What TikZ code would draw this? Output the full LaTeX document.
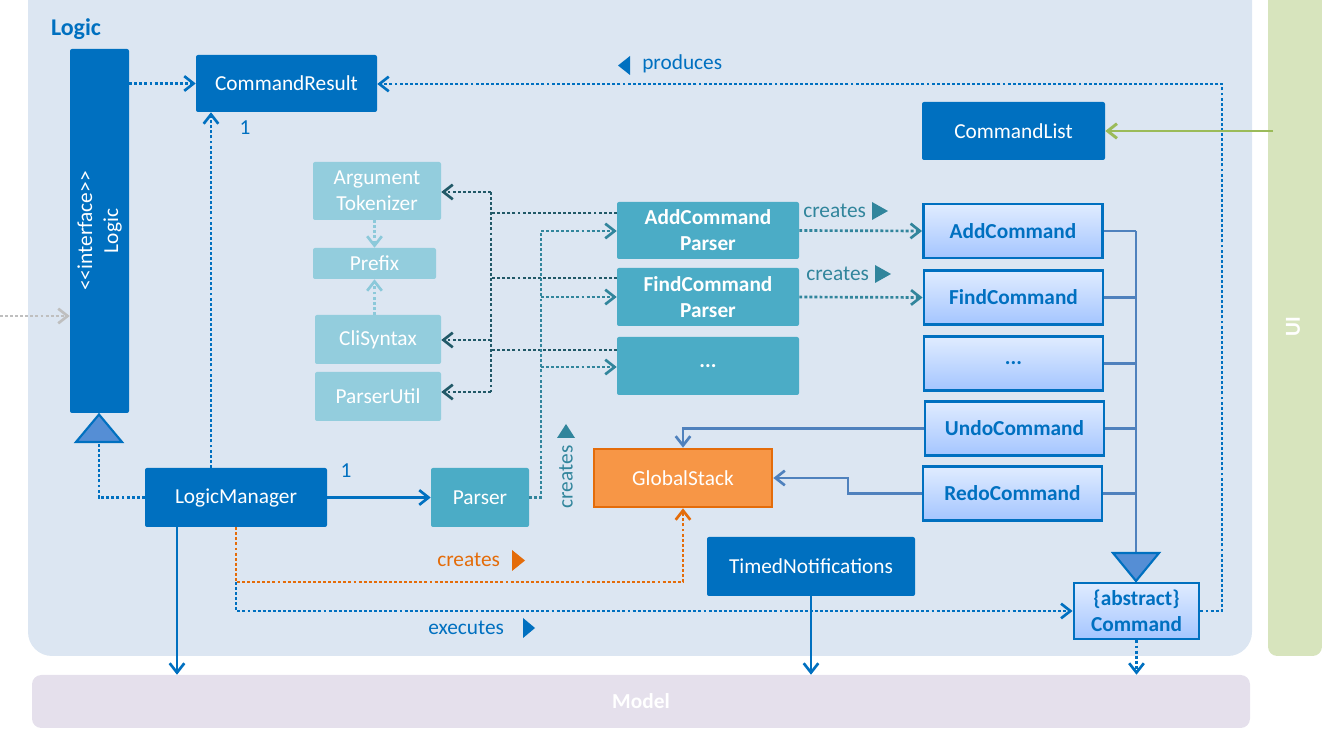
\documentclass[tikz,border=0pt]{standalone}
\usepackage{fontspec}
\setmainfont{Carlito}
\usetikzlibrary{arrows.meta}
\definecolor{panelblue}{HTML}{DCE6F2}
\definecolor{dblue}{HTML}{0070C0}
\definecolor{lcyan}{HTML}{93CDDD}
\definecolor{lcyanarr}{HTML}{8CC9DA}
\definecolor{tealb}{HTML}{4BACC6}
\definecolor{dteal}{HTML}{215968}
\definecolor{mteal}{HTML}{31859C}
\definecolor{orangef}{HTML}{F79646}
\definecolor{oranged}{HTML}{E46C0A}
\definecolor{steel}{HTML}{4F81BD}
\definecolor{trifill}{HTML}{558ED5}
\definecolor{modelc}{HTML}{E5E0EC}
\definecolor{uic}{HTML}{D7E4BD}
\definecolor{greenl}{HTML}{9BBB59}
\definecolor{grayl}{HTML}{BFBFBF}
\definecolor{cmdtop}{HTML}{E0ECFF}
\definecolor{cmdbot}{HTML}{A4C5FF}
\newcommand\fs{\fontsize{16}{19.5}\selectfont}
\tikzset{
  sz/.style 2 args={minimum width=#1*0.75pt, minimum height=#2*0.75pt},
  nbox/.style={inner sep=0pt, align=center, font=\fs, rounded corners=1.5pt},
  dbox/.style={nbox, fill=dblue, text=white},
  ubox/.style={nbox, fill=lcyan, text=white},
  pbox/.style={nbox, fill=tealb, text=white},
  cbox/.style={nbox, draw=dblue, line width=2.2pt, top color=cmdtop, bottom color=cmdbot, text=dblue, font=\fs\bfseries, rounded corners=0pt},
  dotl/.style={line width=2pt, dash pattern=on 2.2pt off 1.6pt},
  solidl/.style={line width=2pt},
  arr/.style={-{Straight Barb[length=7pt,width=11pt]}},
  lbl/.style={font=\fs, inner sep=0pt},
}
\begin{document}
\begin{tikzpicture}[x=0.75pt,y=-0.75pt]
\useasboundingbox (0,0) rectangle (1322,730);
% panels
\fill[panelblue, rounded corners=18pt] (28,-30) rectangle (1252,656);
\fill[white] (0,-40) rectangle (1322,0);
\node[fill=uic, rounded corners=7pt, sz={54}{666}, inner sep=0pt] (ui) at (1295,323) {};
\fill[white] (1260,-40) rectangle (1322,0);
\node[rotate=90, text=white, font=\fs\bfseries, inner sep=0pt] (uit) at (1293,327) {UI};
\node[fill=modelc, rounded corners=7pt, sz={1218}{53}, inner sep=0pt, text=white, font=\fs\bfseries] (model) at (641,701.5) {Model};
\node[text=dblue, font=\fontsize{18}{22}\selectfont\bfseries, inner sep=0pt] (ltitle) at (76,29) {Logic};

% nodes
\node[dbox, sz={59}{364}] (iface) at (99.5,231) {};
\node[rotate=90, text=white, font=\fs, align=center, inner sep=0pt] (ifacet) at (99.5,231) {<\kern0pt<interface>\kern0pt>\\Logic};
\node[dbox, sz={181}{57}] (cres) at (286.5,83.5) {CommandResult};
\node[dbox, sz={183}{58}] (clist) at (1013.5,131) {CommandList};
\node[ubox, sz={128}{58}] (argtok) at (377,191) {Argument\\Tokenizer};
\node[ubox, sz={123}{31}] (prefix) at (374.5,263.5) {Prefix};
\node[ubox, sz={126}{49}] (clisyn) at (378,339.5) {CliSyntax};
\node[ubox, sz={126}{49}] (putil) at (378,396.5) {ParserUtil};
\node[pbox, sz={182}{57}, font=\fs\bfseries] (acp) at (708,230.5) {AddCommand\\Parser};
\node[pbox, sz={182}{58}, font=\fs\bfseries] (fcp) at (708,297) {FindCommand\\Parser};
\node[pbox, sz={182}{58}, font=\fs\bfseries] (dcp) at (708,366) {...};
\node[pbox, sz={98}{59}] (parser) at (480,497.5) {Parser};
\node[dbox, sz={182}{59}] (lm) at (236,497.5) {LogicManager};
\node[nbox, sz={178}{58}, fill=orangef, draw=oranged, line width=2pt, rounded corners=0pt, text=white] (gs) at (683,478) {GlobalStack};
\node[dbox, sz={208}{59}] (tn) at (811,566.5) {TimedNotifications};
\node[cbox, sz={179}{54}] (addc) at (1013,231) {AddCommand};
\node[cbox, sz={179}{54}] (findc) at (1013.5,297.5) {FindCommand};
\node[cbox, sz={179}{54}] (dotc) at (1013.5,363.5) {...};
\node[cbox, sz={179}{54}] (undoc) at (1014.5,428.5) {UndoCommand};
\node[cbox, sz={179}{54}] (redoc) at (1012.5,493.5) {RedoCommand};
\node[cbox, sz={125}{56}] (cmd) at (1136.5,611) {\{abstract\}\\Command};

% helper coordinates
\coordinate (grayin) at (0,316);
\coordinate (c211) at (211,0);
\coordinate (c177) at (177,0);
\coordinate (ua) at (491,192);
\coordinate (uc) at (491,340);
\coordinate (ud) at (491,392);
\coordinate (da) at (491,213);
\coordinate (db) at (491,278);
\coordinate (dc) at (491,350);
\coordinate (pr) at (541,497.5);
\coordinate (pa) at (541,231);
\coordinate (pf) at (541,297);
\coordinate (pd) at (541,367);
\coordinate (tr) at (1136,553);
\coordinate (rb) at (848,478);
\coordinate (og) at (236,582);
\coordinate (ex) at (236,611);
\coordinate (pq) at (1222,611);
\coordinate (pt) at (1222,84);
\coordinate (uiin) at (1273,131);
\coordinate (itri) at (99,442);

% interface realisation
\draw[dblue, dotl] (lm.west) -| (itri);
\draw[dblue, line width=1.6pt, fill=trifill, line join=miter] (76,442) -- (122,442) -- (99,414.5) -- cycle;
% gray arrow in
\draw[grayl, dotl, arr] (grayin) -- (iface.west |- grayin);
% iface -> CommandResult
\draw[dblue, dotl, arr] (iface.east |- cres.west) -- (cres.west);
% LogicManager -> CommandResult
\draw[dblue, dotl, arr] (lm.north -| c211) -- (cres.south -| c211);
\node[lbl, text=dblue] (one1) at (245,128) {1};
% produces
\draw[dblue, dotl, arr] (cmd.east |- pq) -- (pq) -- (pt) -- (cres.east |- pt);
\fill[dblue] (630,56) -- (630,75) -- (618,65.5) -- cycle;
\node[lbl, text=dblue, anchor=west] (prodl) at (642,64) {produces};
% UI -> CommandList
\draw[greenl, line width=2.2pt, arr] (uiin) -- (clist.east);
% util dependencies
\draw[lcyanarr, dotl, arr] (argtok.south -| prefix.north) -- (prefix.north);
\draw[lcyanarr, dotl, arr] (clisyn.north -| prefix.south) -- (prefix.south);
\draw[dteal, dotl] (ua) -- (ud);
\draw[dteal, dotl] (acp.west |- da) -- (da);
\draw[dteal, dotl] (fcp.west |- db) -- (db);
\draw[dteal, dotl] (dcp.west |- dc) -- (dc);
\draw[dteal, dotl, arr] (ua) -- (argtok.east |- ua);
\draw[dteal, dotl, arr] (uc) -- (clisyn.east |- uc);
\draw[dteal, dotl, arr] (ud) -- (putil.east |- ud);
% parser creates
\draw[mteal, dotl] (parser.east) -- (pr) -- (pa);
\draw[mteal, dotl, arr] (pa) -- (acp.west |- pa);
\draw[mteal, dotl, arr] (pf) -- (fcp.west |- pf);
\draw[mteal, dotl, arr] (pd) -- (dcp.west |- pd);
\fill[mteal] (557,438) -- (575,438) -- (566,424) -- cycle;
\node[lbl, rotate=90, text=mteal] (crp) at (566,477) {creates};
% command parsers create commands
\draw[mteal, dotl, arr] (acp.east) -- (addc.west);
\draw[mteal, dotl, arr] (fcp.east) -- (findc.west);
\node[lbl, text=mteal, anchor=west] (cra) at (803,211) {creates};
\fill[mteal] (872,202) -- (872,220) -- (888,211) -- cycle;
\node[lbl, text=mteal, anchor=west] (crf) at (806,274) {creates};
\fill[mteal] (875,265) -- (875,283) -- (891,274) -- cycle;
% generalisation
\draw[steel, solidl] (tr |- addc.east) -- (tr);
\foreach \n in {addc,findc,dotc,undoc,redoc} {
  \draw[steel, solidl] (\n.east) -- (tr |- \n.east);
}
\draw[dblue, line width=1.6pt, fill=trifill, line join=miter] (1113,553) -- (1159,553) -- (1136,581) -- cycle;
% undo / redo to GlobalStack
\draw[steel, solidl, arr] (undoc.west) -| (gs.north);
\draw[steel, solidl, arr] (redoc.west) -| (rb) -- (gs.east);
% LogicManager -> Parser
\draw[dblue, solidl, arr] (lm.east) -- (parser.west);
\node[lbl, text=dblue] (one2) at (346,471) {1};
% LogicManager creates GlobalStack
\draw[oranged, dotl, arr] (lm.south) -- (og) -| (gs.south);
\node[lbl, text=oranged, anchor=west] (cro) at (437,560) {creates};
\fill[oranged] (512,550) -- (512,571) -- (525,560.5) -- cycle;
% executes
\draw[dblue, dotl, arr] (og) -- (ex) -- (cmd.west);
\node[lbl, text=dblue, anchor=west] (exl) at (428,628) {executes};
\fill[dblue] (523,618) -- (523,638) -- (535,628) -- cycle;
% to Model
\draw[dblue, solidl, arr] (lm.south -| c177) -- (model.north -| c177);
\draw[dblue, solidl, arr] (tn.south) -- (model.north -| tn.south);
\draw[dblue, dotl, arr] (cmd.south) -- (model.north -| cmd.south);
\end{tikzpicture}
\end{document}
